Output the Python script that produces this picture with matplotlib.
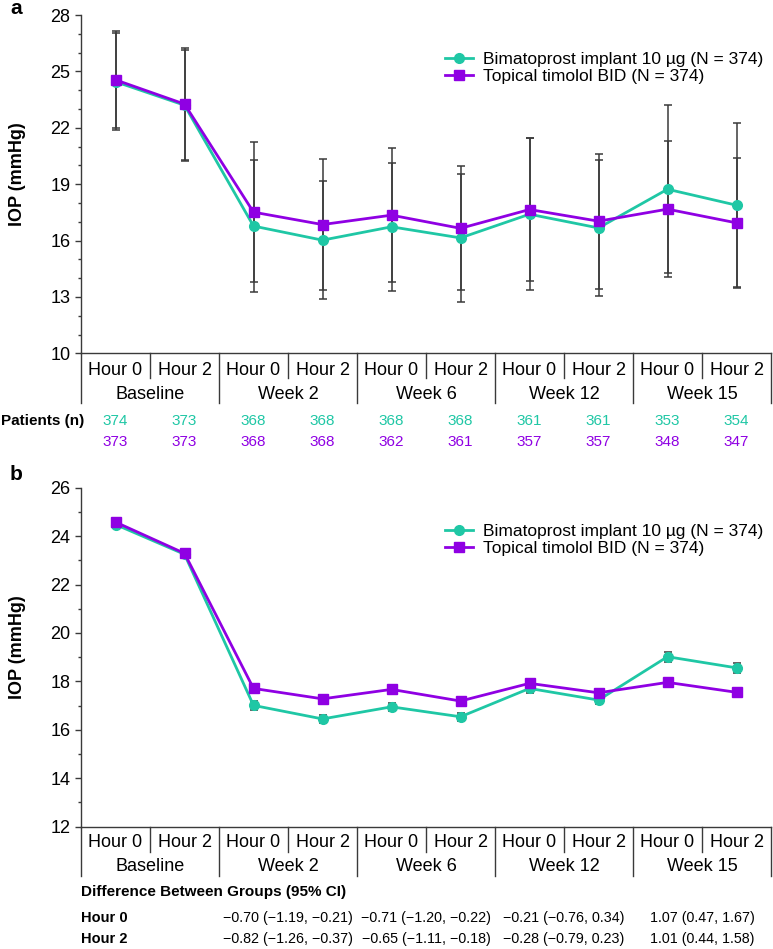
import matplotlib
matplotlib.use("Agg")
import matplotlib.pyplot as plt
import matplotlib.transforms as mtransforms
from matplotlib.ticker import MultipleLocator
import numpy as np

plt.rcParams["font.family"] = ["Liberation Sans", "DejaVu Sans"]

# ----------------------------------------------------------------------
#  Data
# ----------------------------------------------------------------------
hour_labels = ["Hour 0", "Hour 2"] * 5
visit_labels = ["Baseline", "Week 2", "Week 6", "Week 12", "Week 15"]

bim_label = "Bimatoprost implant 10 \u00b5g (N = 374)"
tim_label = "Topical timolol BID (N = 374)"

# panel a: mean +/- SD
bim_mean_a = [24.45, 23.20, 16.77, 16.02, 16.73, 16.14, 17.40, 16.67, 18.73, 17.88]
bim_sd_a = [2.58, 2.95, 3.50, 3.15, 3.39, 3.40, 4.05, 3.62, 4.48, 4.36]
tim_mean_a = [24.55, 23.26, 17.51, 16.85, 17.35, 16.65, 17.65, 17.03, 17.67, 16.94]
tim_sd_a = [2.58, 2.96, 3.71, 3.48, 3.55, 3.30, 3.82, 3.60, 3.63, 3.45]

bim_n = [374, 373, 368, 368, 368, 368, 361, 361, 353, 354]
tim_n = [373, 373, 368, 368, 362, 361, 357, 357, 348, 347]

# panel b: LS mean +/- SE
bim_mean_b = [24.48, 23.25, 17.01, 16.45, 16.95, 16.54, 17.71, 17.23, 19.02, 18.56]
bim_se_b = [0.13, 0.15, 0.18, 0.16, 0.17, 0.17, 0.20, 0.18, 0.21, 0.20]
tim_mean_b = [24.58, 23.29, 17.71, 17.28, 17.67, 17.19, 17.92, 17.53, 17.96, 17.55]
tim_se_b = [0.13, 0.15, 0.17, 0.15, 0.16, 0.16, 0.19, 0.17, 0.19, 0.18]

yticks_a = [10, 13, 16, 19, 22, 25, 28]
yticks_b = [12, 14, 16, 18, 20, 22, 24, 26]

diff_title = "Difference Between Groups (95% CI)"
diff_rows = ["Hour 0", "Hour 2"]
diff_h0 = ["\u22120.70 (\u22121.19, \u22120.21)", "\u22120.71 (\u22121.20, \u22120.22)",
           "\u22120.21 (\u22120.76, 0.34)", "1.07 (0.47, 1.67)"]
diff_h2 = ["\u22120.82 (\u22121.26, \u22120.37)", "\u22120.65 (\u22121.11, \u22120.18)",
           "\u22120.28 (\u22120.79, 0.23)", "1.01 (0.44, 1.58)"]

TEAL = "#1fc7a5"
PURPLE = "#8f00e3"
GREY = "#3a3a3a"

W, H = 773, 949
fig = plt.figure(figsize=(W / 100, H / 100), dpi=100)

x = np.arange(len(hour_labels))


def fy(py):
    return 1 - py / H


def draw_panel(ax, bim_m, bim_e, tim_m, tim_e, yticks, hour_off, grp_off,
               hdiv_off, gdiv_off):
    ax.errorbar(x, bim_m, yerr=bim_e, fmt="none", ecolor=GREY, elinewidth=1.1,
                capsize=3.2, capthick=1.1, zorder=1)
    ax.errorbar(x, tim_m, yerr=tim_e, fmt="none", ecolor=GREY, elinewidth=1.1,
                capsize=3.2, capthick=1.1, zorder=1)
    ax.plot(x, bim_m, color=TEAL, lw=2, marker="o", ms=7, label=bim_label, zorder=3)
    ax.plot(x, tim_m, color=PURPLE, lw=2, marker="s", ms=7, label=tim_label, zorder=3)

    ax.set_xlim(-0.5, 9.5)
    ax.set_ylim(yticks[0], yticks[-1])
    ax.set_yticks(yticks)
    ax.yaxis.set_minor_locator(MultipleLocator(1))
    ax.tick_params(axis="y", which="major", length=4.5, width=1, color=GREY,
                   labelsize=13, pad=3)
    ax.tick_params(axis="y", which="minor", length=2.5, width=1, color=GREY)
    ax.set_xticks([])
    for s in ["top", "right"]:
        ax.spines[s].set_visible(False)
    for s in ["left", "bottom"]:
        ax.spines[s].set_color(GREY)
        ax.spines[s].set_linewidth(1)

    ax.set_ylabel("IOP (mmHg)", fontsize=13, fontweight="bold")
    ax.yaxis.set_label_coords(-0.08, 0.5285)

    ax.legend(loc="upper left", frameon=False, fontsize=12.5,
              handlelength=1.6, handletextpad=0.6, labelspacing=0.1,
              borderpad=0, borderaxespad=0)

    # category table under the axis (offsets in pixels below the axis line)
    h_px = ax.get_position().height * H
    trans = mtransforms.blended_transform_factory(ax.transData, ax.transAxes)
    for i, lab in enumerate(hour_labels):
        ax.text(x[i], -hour_off / h_px, lab, transform=trans, ha="center",
                va="center", fontsize=13)
    for g, lab in enumerate(visit_labels):
        ax.text(2 * g + 0.5, -grp_off / h_px, lab, transform=trans, ha="center",
                va="center", fontsize=13)
    for g in range(5):
        ax.plot([2 * g + 0.5] * 2, [0, -hdiv_off / h_px], transform=trans,
                color=GREY, lw=1, clip_on=False)
    for g in range(6):
        ax.plot([2 * g - 0.5] * 2, [0, -gdiv_off / h_px], transform=trans,
                color=GREY, lw=1, clip_on=False)
    return trans, h_px


# ----------------------------------------------------------------------
#  Panel a
# ----------------------------------------------------------------------
ax1 = fig.add_axes([81 / W, fy(353.3), 690 / W, 338.3 / H])
trans1, h1 = draw_panel(ax1, bim_mean_a, bim_sd_a, tim_mean_a, tim_sd_a,
                        yticks_a, 17, 41, 25, 50)
ax1.get_legend().set_bbox_to_anchor((445 / W, fy(52)), transform=fig.transFigure)

fig.text(1 / W, fy(420.7), "Patients (n)", fontsize=11, fontweight="bold",
         ha="left", va="center")
for i in range(len(x)):
    ax1.text(x[i], -67.4 / h1, str(bim_n[i]), transform=trans1, ha="center",
             va="center", fontsize=11, color=TEAL)
    ax1.text(x[i], -88.7 / h1, str(tim_n[i]), transform=trans1, ha="center",
             va="center", fontsize=11, color=PURPLE)

fig.text(16 / W, fy(9), "a", fontsize=15, fontweight="bold", ha="center", va="center")

# ----------------------------------------------------------------------
#  Panel b
# ----------------------------------------------------------------------
ax2 = fig.add_axes([81 / W, fy(826.7), 690 / W, 339 / H])
trans2, h2 = draw_panel(ax2, bim_mean_b, bim_se_b, tim_mean_b, tim_se_b,
                        yticks_b, 15.6, 40, 25, 49.3)
ax2.get_legend().set_bbox_to_anchor((445 / W, fy(524)), transform=fig.transFigure)

fig.text(81 / W, fy(891.7), diff_title, fontsize=11, fontweight="bold",
         ha="left", va="center")
fig.text(81 / W, fy(917.7), diff_rows[0], fontsize=10.5, fontweight="bold",
         ha="left", va="center")
fig.text(81 / W, fy(939.3), diff_rows[1], fontsize=10.5, fontweight="bold",
         ha="left", va="center")
for g in range(4):
    cx = 2 * (g + 1) + 0.5
    ax2.text(cx, -91 / h2, diff_h0[g], transform=trans2, ha="center",
             va="center", fontsize=10.3)
    ax2.text(cx, -112.6 / h2, diff_h2[g], transform=trans2, ha="center",
             va="center", fontsize=10.3)

fig.text(16 / W, fy(474), "b", fontsize=15, fontweight="bold", ha="center", va="center")

fig.savefig("out.png", dpi=100)
